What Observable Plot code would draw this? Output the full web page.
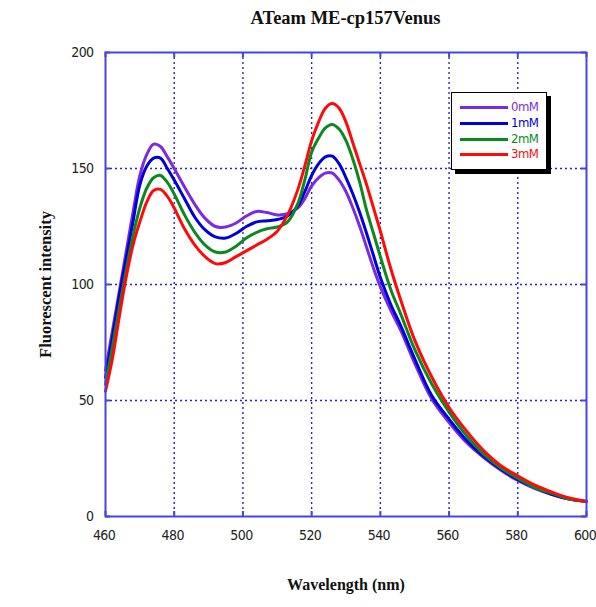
<!DOCTYPE html>
<html>
<head>
<meta charset="utf-8">
<script src="https://cdn.jsdelivr.net/npm/d3@7"></script>
<script src="https://cdn.jsdelivr.net/npm/@observablehq/plot@0.6"></script>
<style>
  html, body { margin: 0; padding: 0; background: #fff; }
  #wrap { position: relative; width: 596px; height: 607px; overflow: hidden; }
  #title { position: absolute; left: 105px; width: 481px; top: 0; height: 36px; line-height: 36px;
           text-align: center; font-family: "Liberation Serif", "Times New Roman", serif; font-weight: bold; font-size: 18.5px; color: #111; }
  #chart { position: absolute; left: 0; top: 36px; }
  #chart svg g[aria-label="x-axis tick label"] text,
  #chart svg g[aria-label="y-axis tick label"] text { letter-spacing: -0.6px; }
  #legend { position: absolute; left: 451px; top: 92px; width: 94px; height: 76px; background: #fff;
            border: 1.5px solid #000; box-shadow: 4px 4px 0 #000; }
  .row { position: absolute; left: 8px; height: 16px; }
  .row .ln { position: absolute; left: 0; top: 6px; width: 48px; height: 3px; }
  .row .lb { position: absolute; left: 51px; top: -1px; font-family: "Liberation Sans Narrow", "DejaVu Sans Condensed", "Arial Narrow", sans-serif; font-size: 13px; line-height: 16px; letter-spacing: -0.5px; }
</style>
</head>
<body>
<div id="wrap">
  <div id="title">ATeam ME-cp157Venus</div>
  <div id="chart"></div>
  <div id="legend"></div>
</div>
<script>
// ---- data ----
const wavelengths = [460,462,464,466,468,470,472,474,476,478,480,483,486,489,492,495,498,501,504,507,510,513,516,518,520,522,524,526,528,530,532,534,536,538,540,543,546,550,555,560,565,570,575,580,585,590,595,600];
const atp0mM = [63,80,97,114,131,147,156,160.5,159.5,155,150,142,134.5,128.5,125,124.8,126.5,129.5,131.5,131,130,130.5,133,137,142.5,146,148,148,145,140,133,125,116,107,99,89,80,66,50.5,40.5,32,25.5,20,15.5,12,9.5,7.5,6.5];
const atp1mM = [60,77,95,111,127,143,151,154.5,154.5,150,145,137,129,123.5,120.5,120,122,125,127,127.5,128,129.5,134,140,147,152,155,155.3,152,146,139,131,122,112.5,103,91.5,82,68,52,42,33,26,20.5,16,12.5,9.5,7.5,6.5];
const atp2mM = [57,73,90,106,121,133,141.5,146,147,144,139,130,122.5,117,114,114,116.5,120,122.5,124,124.8,127,135,145,157,163,167.5,169,167,162,154,144,132,122,112,98,87,72,57,45,35,27,21,16.5,12.5,10,7.5,6.5];
const atp3mM = [54,68,86,103,117,127,135.5,140.5,141,138,133,124,117,112,109,109.5,112,114.5,117,119.5,123,130,141,151,162,170,176,178,176,170,161,152,143,133,123,107,93,76,60,47,37,28.5,22,17.5,13.5,10.5,8,6.5];
const seriesNames = ["0mM", "1mM", "2mM", "3mM"];
const seriesColors = ["#7a2be0", "#0000dd", "#0a8a1e", "#ff0a0a"];
const xTicks = [460,480,500,520,540,560,580,600];
const yTicks = [0,50,100,150,200];

// ---- build table ----
const seriesValues = [atp0mM, atp1mM, atp2mM, atp3mM];
const rows = [];
seriesNames.forEach((name, i) => {
  wavelengths.forEach((w, j) => rows.push({series: name, wl: w, v: seriesValues[i][j]}));
});

const W = 596, H = 571;
const mT = 16, mB = 91, mL = 105, mR = 10;
const frameH = H - mT - mB, frameW = W - mL - mR;
const frameColor = "#4545e4";
const gridColor = "#2323cc";
const tickFont = '"Liberation Sans Narrow", "DejaVu Sans Condensed", "Arial Narrow", sans-serif';
const serif = '"Liberation Serif", "Times New Roman", serif';

const chart = Plot.plot({
  width: W, height: H,
  marginTop: mT, marginBottom: mB, marginLeft: mL, marginRight: mR,
  x: {domain: [460, 600]},
  y: {domain: [0, 200]},
  color: {domain: seriesNames, range: seriesColors},
  style: {background: "#fff", fontFamily: tickFont, overflow: "visible"},
  marks: [
    Plot.ruleX(xTicks.slice(1, -1), {stroke: gridColor, strokeWidth: 1.4, strokeDasharray: "2,3"}),
    Plot.ruleY(yTicks.slice(1, -1), {stroke: gridColor, strokeWidth: 1.4, strokeDasharray: "2,3"}),
    Plot.line(rows, {x: "wl", y: "v", z: "series", stroke: "series", strokeWidth: 3, curve: "catmull-rom"}),
    Plot.frame({stroke: frameColor, strokeWidth: 2}),
    Plot.tickX(xTicks, {x: d => d, stroke: frameColor, strokeWidth: 2, insetTop: frameH - 5}),
    Plot.tickX(xTicks, {x: d => d, stroke: frameColor, strokeWidth: 2, insetBottom: frameH - 5}),
    Plot.tickY(yTicks, {y: d => d, stroke: frameColor, strokeWidth: 2, insetRight: frameW - 5}),
    Plot.tickY(yTicks, {y: d => d, stroke: frameColor, strokeWidth: 2, insetLeft: frameW - 5}),
    Plot.axisX({ticks: xTicks, tickSize: 0, tickPadding: 14, dx: -1.5, tickFormat: d => String(d), label: null, fontSize: 14, fill: "#222"}),
    Plot.axisY({ticks: yTicks, tickSize: 0, tickPadding: 12, tickFormat: d => String(d), label: null, fontSize: 14, fill: "#222"}),
    Plot.text(["Wavelength (nm)"], {frameAnchor: "bottom", lineAnchor: "middle", dy: 68, fontFamily: serif, fontWeight: "bold", fontSize: 16, fill: "#111"}),
    Plot.text(["Fluorescent intensity"], {frameAnchor: "left", textAnchor: "middle", lineAnchor: "middle", dx: -60, rotate: -90, fontFamily: serif, fontWeight: "bold", fontSize: 16.5, fill: "#111"})
  ]
});
document.getElementById("chart").appendChild(chart);

// ---- legend ----
const legend = document.getElementById("legend");
const rowTops = [7, 23, 39, 54];
seriesNames.forEach((name, i) => {
  const r = document.createElement("div");
  r.className = "row";
  r.style.top = rowTops[i] + "px";
  r.innerHTML = `<div class="ln" style="background:${seriesColors[i]}"></div><div class="lb" style="color:${seriesColors[i]}">${name}</div>`;
  legend.appendChild(r);
});
</script>
</body>
</html>
